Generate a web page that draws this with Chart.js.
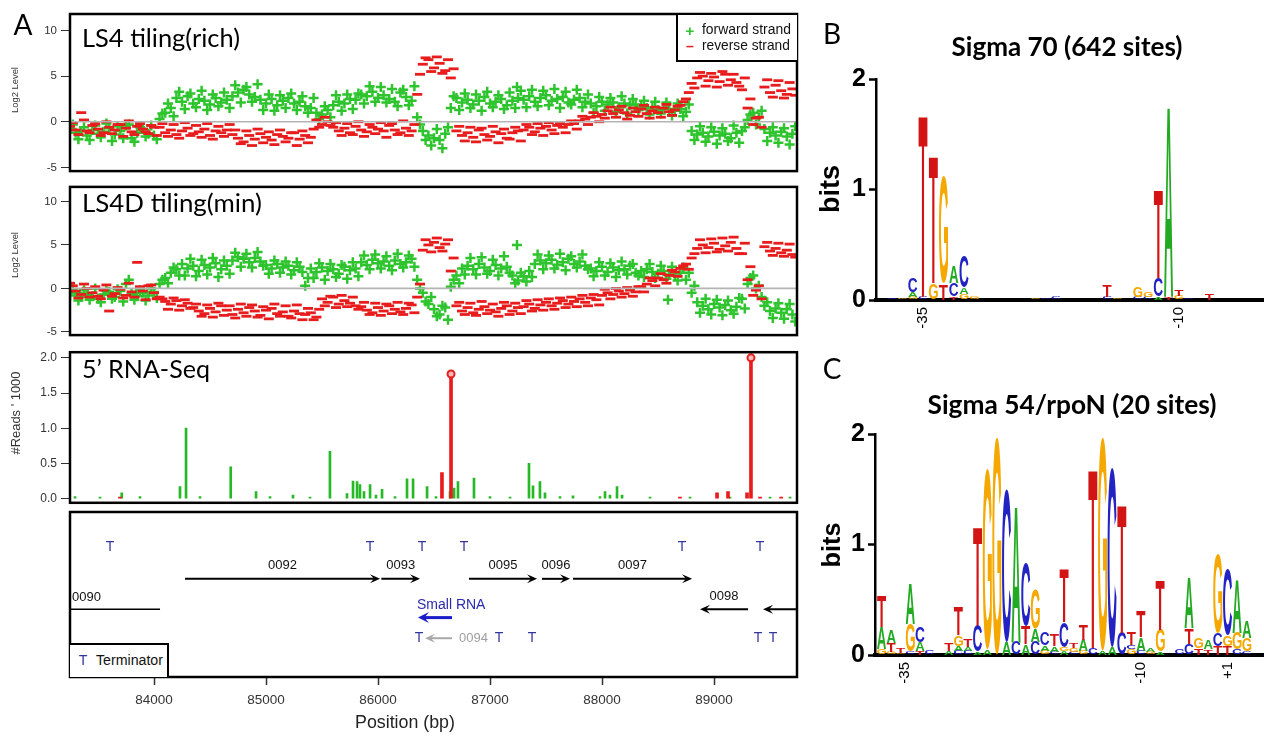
<!DOCTYPE html>
<html><head><meta charset="utf-8">
<script src="https://cdn.jsdelivr.net/npm/chart.js@4.4.1/dist/chart.umd.min.js"></script>
<style>
html,body{margin:0;padding:0;background:#fff;}
body{width:1264px;height:736px;position:relative;overflow:hidden;font-family:"Liberation Sans",Arial,sans-serif;}
canvas{position:absolute;}
.t{position:absolute;white-space:nowrap;line-height:1;}
.box{position:absolute;background:#fff;box-sizing:border-box;}
</style></head><body>
<canvas id="c1" width="810" height="182" style="left:0;top:0"></canvas>
<canvas id="c2" width="810" height="170" style="left:0;top:176px"></canvas>
<canvas id="c3" width="810" height="173" style="left:0;top:341px"></canvas>
<canvas id="c4" width="810" height="228" style="left:0;top:508px"></canvas>
<canvas id="cB" width="464" height="290" style="left:800px;top:56px"></canvas>
<canvas id="cC" width="464" height="290" style="left:800px;top:410px"></canvas>
<div class="box" style="left:676px;top:15px;width:121px;height:47px;border-left:2px solid #000;border-bottom:2px solid #000;"></div>
<div class="box" style="left:70px;top:643px;width:99px;height:34px;border-top:2px solid #000;border-right:2px solid #000;"></div>
<script>
// ---------------- DATA ----------------
const probeStart = 83250, probeStep = 50, probeOffset2 = 25;   // tiling probe grid (bp); second interleaved probe set
const richForward = [-0.8,-1.2,-1.0,-1.5,-0.9,-1.3,-1.1,-0.7,-1.4,-1.0,-0.4,-1.8,-1.2,-0.8,-1.3,-1.5,
 0.3,1.0,1.5,
 2.6,2.2,2.8,2.0,2.5,2.3,1.9,2.6,2.1,2.4,
 2.8,3.2,3.5,3.0,2.7,
 2.4,2.0,2.5,1.8,2.3,2.6,2.0,2.2,1.7,1.5,
 1.0,0.8,1.3,
 1.8,2.2,2.0,2.5,2.4,
 3.0,2.8,3.3,2.6,2.9,
 2.5,2.2,3.2,2.7,2.3,
 0.5,-1.0,
 -1.5,-1.8,-2.0,-1.3,
 1.5,
 2.6,2.1,2.4,1.9,2.3,2.7,2.0,2.2,2.5,1.8,2.3,2.6,
 2.4,2.8,2.2,2.6,2.9,2.3,2.5,2.7,2.1,2.4,2.6,2.2,
 2.0,1.7,2.2,1.9,2.1,1.6,2.0,1.8,1.9,
 1.7,1.5,1.6,1.3,1.5,1.4,1.2,1.4,1.1,
 -1.0,-1.4,-1.2,-1.6,-1.1,-1.5,-1.3,-1.8,-1.2,-1.0,
 0.2,1.0,0.5,
 -0.8,-1.2,-1.5,-1.1,-1.6,-1.3];
const richForward2 = [-0.3,-1.9,-0.6,-2.0,-0.4,-1.7,-0.2,-2.1,-0.5,-1.8,-0.3,-2.2,-0.6,-1.6,-0.4,-1.9,
 0.9,2.0,0.6,
 3.3,1.4,3.1,1.6,3.4,1.3,3.0,1.7,3.2,1.5,
 4.0,2.1,3.8,2.2,4.1,
 1.3,3.0,1.2,2.9,1.5,3.1,1.3,2.8,1.0,2.6,
 0.3,1.7,0.5,
 2.9,1.2,3.0,1.4,3.1,
 2.0,3.9,2.2,3.8,2.1,
 3.6,1.7,3.5,1.8,3.9,
 -0.3,-2.0,
 -2.6,-0.8,-2.9,-0.6,
 2.8,
 1.3,3.1,1.5,3.0,1.2,3.3,1.6,2.9,1.4,3.2,1.5,3.4,
 1.6,3.5,1.7,3.4,1.8,3.6,1.5,3.3,1.9,3.5,1.6,3.0,
 1.0,2.7,1.2,2.6,1.1,2.8,0.9,2.5,1.3,
 2.3,0.8,2.2,0.9,2.1,0.7,2.0,0.6,1.9,
 -2.0,-0.5,-2.2,-0.6,-2.4,-0.7,-2.1,-0.4,-2.3,-0.6,
 0.8,-0.3,1.2,
 -2.1,-0.6,-2.3,-0.7,-2.5,-0.5];
const richReverse = [-0.5,-0.9,1.0,-1.0,-0.4,-0.8,-1.2,-0.6,-0.9,-0.3,-0.7,-1.1,-0.5,-0.8,-1.3,-0.6,
 -0.6,-1.2,-0.9,-1.4,-1.0,-0.7,-1.3,-1.1,-0.8,-1.5,-1.0,-1.2,-0.9,
 -1.4,-1.8,-2.2,-1.5,-1.9,-1.3,-1.7,-2.0,-1.4,-1.6,-1.8,-1.2,-1.9,-1.5,-1.7,
 0.2,-0.3,0.0,
 -0.6,-1.0,-0.7,-1.2,-0.5,-0.9,-1.1,-0.6,-0.8,-1.0,-0.4,-0.9,-1.2,-0.7,-1.0,
 3.0,6.3,6.8,5.9,6.4,5.6,4.8,
 -1.0,-1.5,-1.2,-1.7,-0.9,-1.4,-1.6,-1.1,-1.3,-1.8,-1.2,-1.0,
 -0.9,-0.6,-1.1,-0.7,-0.5,-0.9,-0.4,-0.6,-0.3,
 -0.2,0.1,0.3,0.5,0.6,
 0.8,1.2,0.9,1.3,1.0,0.7,1.1,1.4,0.9,1.2,1.0,1.5,1.1,1.3,1.8,2.5,
 4.2,4.8,5.0,4.5,4.9,4.4,5.2,4.6,4.3,3.5,
 1.5,-0.3,0.5,
 3.8,3.2,4.0,3.4,3.0,3.6];
const richReverse2 = [-0.1,-1.4,0.2,-1.2,-0.2,-1.5,0.0,-1.3,-0.3,-1.6,0.1,-1.4,-0.2,-1.1,-0.4,-1.5,
 -0.2,-1.6,-0.3,-1.8,-0.1,-1.5,-0.4,-1.7,-0.2,-1.9,-0.5,-1.6,-0.3,
 -0.9,-2.4,-1.0,-2.6,-0.8,-2.3,-1.1,-2.5,-0.9,-2.2,-1.2,-2.6,-1.0,-2.3,-0.8,
 -0.6,0.5,-0.4,
 -0.1,-1.5,-0.2,-1.4,0.0,-1.6,-0.3,-1.3,-0.1,-1.7,-0.2,-1.4,0.1,-1.5,-0.3,
 5.2,7.0,5.5,7.1,5.3,6.8,5.8,
 -0.5,-2.1,-0.6,-2.2,-0.7,-2.0,-0.5,-2.3,-0.8,-1.9,-0.6,-2.1,
 -0.3,-1.4,-0.2,-1.5,-0.1,-1.3,-0.2,-1.2,0.1,
 -0.8,0.6,-0.3,1.0,0.0,
 0.4,1.6,0.5,1.7,0.3,1.5,0.6,1.8,0.4,1.6,0.5,1.9,0.7,1.7,2.2,3.2,
 3.7,5.4,3.9,5.3,3.8,5.5,4.0,5.2,3.9,4.8,
 2.5,0.4,-0.6,
 4.6,2.7,4.5,2.6,4.3,2.9];
const minForward = [-0.8,-0.5,-1.0,-0.6,-0.9,-1.2,-0.7,-0.4,-1.0,-0.3,0.5,-0.6,-0.9,-0.5,-0.8,-0.4,
 0.5,1.2,1.8,2.2,
 2.8,2.3,2.6,2.0,2.7,2.4,2.9,2.2,2.6,
 3.2,3.6,3.4,3.0,3.5,3.1,
 2.7,2.3,2.8,2.4,2.6,2.1,2.5,
 0.3,
 2.3,1.9,2.4,2.0,2.2,1.7,2.5,2.1,2.3,
 3.0,2.7,3.3,2.9,3.1,2.6,3.2,2.8,3.0,3.4,
 1.0,-0.5,-1.8,-2.4,-3.0,-2.2,
 0.2,1.5,2.3,
 2.6,2.2,2.8,2.4,2.0,2.7,2.3,2.5,
 1.5,0.9,1.4,2.0,
 2.8,3.2,2.9,3.3,2.7,3.0,3.4,2.8,3.1,2.6,
 2.3,2.0,2.5,1.9,2.4,2.1,2.2,2.6,1.8,
 2.0,2.2,1.9,1.7,2.0,1.6,1.5,1.8,
 1.0,-0.5,
 -1.6,-2.0,-2.4,-1.8,-2.2,-1.9,-2.5,-2.1,-1.2,
 0.5,1.5,0.3,
 -2.0,-2.6,-2.3,-2.8,-2.4,-3.0];
const minForward2 = [-0.1,-1.4,-0.2,-1.3,0.0,-1.6,-0.3,-1.2,-0.1,-1.5,1.0,-1.3,-0.2,-1.4,0.0,-1.1,
 1.0,0.6,2.4,1.5,
 1.5,3.4,1.4,3.3,1.6,3.5,1.3,3.2,1.7,
 4.1,2.5,4.0,2.4,4.2,2.6,
 1.7,3.2,1.8,3.1,1.6,3.0,1.9,
 1.2,
 1.2,2.9,1.0,2.8,1.3,2.7,1.1,3.0,1.4,
 3.8,2.2,3.9,2.3,3.7,2.1,4.0,2.4,3.8,2.5,
 0.0,-1.5,-1.0,-3.2,-2.0,-3.6,
 1.0,0.6,1.6,
 3.5,1.6,3.6,1.7,3.3,1.5,3.7,1.8,
 0.6,1.8,0.8,1.3,
 3.9,2.2,3.8,2.3,4.0,2.1,3.7,2.4,3.9,2.2,
 1.4,3.0,1.5,2.9,1.3,3.1,1.6,2.8,1.5,
 1.3,2.8,1.2,2.6,1.1,2.5,0.9,2.4,
 1.8,0.3,
 -2.8,-1.2,-3.0,-1.3,-3.1,-1.4,-2.9,-1.1,-2.3,
 1.2,0.0,-1.0,
 -1.6,-3.4,-1.7,-3.5,-1.8,-3.8];
const minReverse = [0.6,-0.3,-0.7,0.0,-0.5,-0.9,-0.2,-2.6,-0.6,-0.1,-0.8,-0.4,3.0,-0.3,0.3,-0.5,
 -1.0,-1.5,-1.8,-1.4,-2.0,-1.7,
 -2.2,-2.6,-2.9,-2.3,-2.7,-2.0,-2.5,-3.0,-2.4,-2.8,-2.2,-2.6,-3.1,-2.5,-2.3,-2.9,-2.7,-3.2,-2.6,-2.9,
 -3.0,-2.8,-3.3,
 -1.2,-1.6,-1.0,-1.8,-1.4,-1.7,-2.0,
 -2.1,-2.5,-2.8,-2.2,-2.6,-2.0,-2.4,-2.7,-2.3,-1.9,
 -1.0,4.4,5.0,5.3,4.7,5.1,
 2.0,
 -2.0,-2.6,-2.2,-2.8,-2.4,-2.1,-2.5,-2.7,-2.3,-2.0,-2.6,-2.2,
 -2.1,-1.8,-2.3,-1.9,-1.6,-2.0,-1.7,-1.4,-1.8,-1.5,-1.2,-1.6,-1.1,-1.3,
 -0.8,-0.5,-0.7,-0.3,-0.6,-0.2,-0.4,
 0.2,0.5,0.9,1.2,1.0,1.5,1.9,2.3,
 2.8,3.5,
 4.6,5.0,4.7,5.2,4.5,4.9,5.3,4.6,4.0,
 1.0,-0.8,0.3,
 4.8,4.3,4.6,4.1,4.4,3.9];
const minReverse2 = [0.3,-1.1,0.5,-1.0,0.2,-1.2,0.4,-0.9,0.1,-1.1,0.6,-1.0,0.2,-1.3,0.4,-1.2,
 -1.2,-2.4,-1.1,-2.5,-1.3,-2.3,
 -1.8,-3.2,-1.9,-3.3,-1.7,-3.1,-2.0,-3.4,-1.8,-3.2,-1.9,-3.3,-2.1,-3.5,-1.8,-3.2,-2.0,-3.4,-1.9,-3.6,
 -2.3,-3.6,-2.4,
 -2.0,-0.9,-2.2,-0.8,-2.1,-1.0,-2.4,
 -1.6,-3.0,-1.7,-3.1,-1.8,-2.9,-1.6,-3.0,-1.7,-2.8,
 0.5,5.6,4.2,5.8,4.3,5.6,
 3.5,
 -1.6,-3.0,-1.7,-3.1,-1.5,-2.9,-1.8,-3.2,-1.6,-3.0,-1.7,-2.9,
 -1.4,-2.6,-1.3,-2.5,-1.2,-2.4,-1.1,-2.2,-1.0,-2.1,-0.8,-2.0,-0.7,-1.9,
 -0.1,-1.2,0.0,-1.0,0.1,-0.9,0.2,
 -0.4,1.2,0.3,1.7,0.6,2.1,1.4,2.6,
 2.2,4.0,
 5.6,4.1,5.7,4.2,5.8,4.3,5.9,4.0,5.2,
 2.5,-0.2,-1.2,
 5.3,3.8,5.2,3.7,5.1,3.6];
const richForwardOutlierPos = [87241];
const richForwardOutlierVal = [3.8];
const minForwardOutlierPos = [87241, 88589];
const minForwardOutlierVal = [5.0, -1.3];

const rnaForwardPos = [83295,83518,83712,83875,84232,84286,84411,84685,84911,85036,85241,85393,85571,85723,85777,85813,85839,85875,85929,85982,86036,86152,86259,86313,86438,86518,86643,86679,86714,86857,87000,87179,87348,87384,87446,87491,87625,87741,87982,88027,88071,88134,88179,88429,88786,89143,89500,89679];
const rnaForwardReads = [0.03,0.02,0.08,0.03,0.17,1.0,0.03,0.45,0.1,0.03,0.05,0.02,0.67,0.07,0.25,0.24,0.2,0.1,0.2,0.05,0.13,0.03,0.28,0.28,0.17,0.03,0.1,0.15,0.24,0.29,0.03,0.02,0.5,0.18,0.24,0.08,0.03,0.04,0.03,0.1,0.05,0.17,0.05,0.02,0.02,0.02,0.02,0.02];
const rnaReversePos = [83696,86571,86652,88696,89027,89125,89295,89330,89411,89600];
const rnaReverseReads = [0.02,0.37,1.77,0.02,0.08,0.1,0.08,2.0,0.02,0.02];

const positionTicks = [84000,85000,86000,87000,88000,89000];
const log2Ticks = [-5,0,5,10];
const readTicks = [0,0.5,1,1.5,2];

const geneNames   = ['0090','0092','0093','0095','0096','0097','0098','','Small RNA','0094'];
const geneStarts  = [83000,84277,86030,86812,87464,87741,88875,89438,86357,86420];
const geneEnds    = [84054,86018,86375,87420,87714,88804,89304,90000,86661,86661];
const geneStrands = [0,1,1,1,1,1,-1,-1,-1,-1];
const geneTracks  = ['rev','fwd','fwd','fwd','fwd','fwd','rev','rev','srna','low'];
const geneKinds   = ['gene','gene','gene','gene','gene','gene','gene','gene','sRNA','pseudo'];
const termPos     = [83607,85929,86393,86768,88714,89411,86366,87080,87375,89393,89527];
const termTracks  = ['top','top','top','top','top','top','low','low','low','low','low'];

const sigma70Pos = [-38,-37,-36,-35,-34,-33,-32,-31,-30,-24,-23,-22,-17,-16,-14,-13,-12,-11,-10,-9,-7];
const sigma70Letters = ['C','G','GAC','CT','GT','TG','TCA','GAC','G','G','C','C','CT','G','CG','CG','ACT','TA','GT','C','T'];
const sigma70Bits = [[0.02],[0.02],[0.03,0.04,0.13],[0.03,1.65],[0.15,1.15],[0.15,0.97],[0.03,0.12,0.15],[0.05,0.06,0.28],[0.03],[0.02],[0.02],[0.03],[0.03,0.10],[0.01],[0.03,0.10],[0.03,0.05],[0.03,0.17,0.80],[0.03,1.73],[0.04,0.06],[0.02],[0.06]];
const sigma70TickPos = [-35,-10];
const sigma70TickLabels = ['-35','-10'];

const sigma54Pos = [0,1,2,3,4,5,6,7,8,9,10,11,12,13,14,15,16,17,18,19,20,21,22,23,24,25,26,27,28,29,30,31,32,33,34,35,36,37,38];
const sigma54Letters = ['GAT','GTA','GT','CGA','TAC','C','','AT','CAGT','CAT','ACT','AG','G','AC','CA','ATC','CAG','GAC','CAT','AGCT','CGT','GAT','CT','AG','AC','CT','GCT','CAT','GA','AGT','','C','CTA','TG','TA','TCG','TGC','CGA','CGA'];
const sigma54Bits = [[0.05,0.2,0.28],[0.03,0.08,0.12],[0.02,0.05],[0.03,0.25,0.36],[0.04,0.08,0.14],[0.04],[],[0.04,0.07],[0.04,0.04,0.10,0.26],[0.04,0.03,0.07],[0.03,0.24,0.89],[0.05,1.63],[1.97],[0.12,1.38],[0.12,1.24],[0.10,0.16,0.57],[0.12,0.12,0.36],[0.04,0.05,0.12],[0.03,0.05,0.10],[0.04,0.03,0.23,0.48],[0.03,0.03,0.04],[0.04,0.10,0.14],[0.06,1.62],[0.04,1.93],[0.07,1.62],[0.20,1.17],[0.05,0.04,0.12],[0.04,0.12,0.23],[0.03,0.03],[0.03,0.20,0.45],[],[0.05],[0.10,0.14,0.46],[0.06,0.10],[0.05,0.08],[0.08,0.12,0.71],[0.08,0.10,0.60],[0.05,0.15,0.48],[0.03,0.12,0.15]];
const sigma54TickPos = [2.4,27,36];
const sigma54TickLabels = ['-35','-10','+1'];

// ---------------- STYLE ----------------
const FONT = '"Liberation Sans", Arial, sans-serif';
const GREEN = '#2ec42e', RED = '#e81c1c';
const letterColors = {A:'#22aa22', C:'#2323c4', G:'#f5a800', T:'#d21414'};
const trackLevel = {top:7.9, fwd:5.95, rev:4.1, srna:3.6, low:2.35};
const geneStyle = {gene:{color:'#000', width:2, font:13, textColor:'#111'}, sRNA:{color:'#1c1cc8', width:3, font:14, textColor:'#2a2ab0'}, pseudo:{color:'#a8a8a8', width:2, font:13, textColor:'#a0a0a0'}};
const XMIN = 83250, XMAX = 89741;

const framePlugin = {id:'frame', afterDraw(chart){
  const a = chart.chartArea, c = chart.ctx;
  c.save(); c.strokeStyle = '#000'; c.lineWidth = 2.5;
  c.strokeRect(a.left, a.top, a.right - a.left, a.bottom - a.top); c.restore();
}};
const zeroPlugin = {id:'zero', afterDatasetsDraw(chart){
  const a = chart.chartArea, c = chart.ctx, y = chart.scales.y.getPixelForValue(0);
  c.save(); c.strokeStyle = '#b4b4b4'; c.lineWidth = 1.6;
  c.beginPath(); c.moveTo(a.left, y); c.lineTo(a.right, y); c.stroke(); c.restore();
}};

function yAxis(min, max, ticks, size, fmt){
  return {type:'linear', min, max,
    afterBuildTicks: s => { s.ticks = ticks.map(v => ({value:v})); },
    afterFit: s => { s.width = 70; },
    grid:{drawOnChartArea:false, drawTicks:true, tickLength:9, tickColor:'#333', tickWidth:1},
    border:{display:false},
    ticks:{color:'#333', font:{size, family:FONT}, padding:4, callback: fmt}};
}
const xHidden = {type:'linear', min:XMIN, max:XMAX, display:false};
const baseOpts = {responsive:false, animation:false, devicePixelRatio:1,
  plugins:{legend:{display:false}, tooltip:{enabled:false}}};

function toXY(pos, vals){ return vals.map((v,i) => ({x:pos[i], y:v})); }
function probeXY(vals, off){ return vals.map((v,i) => ({x:probeStart + off + i*probeStep, y:v})); }

function tilingChart(id, fwd, fwd2, rev, rev2, outPos, outVal, ymin, ymax){
  const revStyle = {pointStyle:'line', pointRadius:5, borderColor:RED, borderWidth:2.8, backgroundColor:RED};
  const fwdStyle = {pointStyle:'cross', pointRadius:5, borderColor:GREEN, borderWidth:2.5};
  new Chart(document.getElementById(id), {type:'scatter',
    data:{datasets:[
      Object.assign({data:probeXY(rev, 0)}, revStyle),
      Object.assign({data:probeXY(rev2, probeOffset2)}, revStyle),
      Object.assign({data:toXY(outPos, outVal)}, fwdStyle),
      Object.assign({data:probeXY(fwd, 0)}, fwdStyle),
      Object.assign({data:probeXY(fwd2, probeOffset2)}, fwdStyle)
    ]},
    options:Object.assign({}, baseOpts, {
      layout:{padding:{top:id==='c1'?14:4, bottom:4, right:13, left:0}},
      scales:{x:xHidden, y:yAxis(ymin, ymax, log2Ticks, 11.5, v => String(v))}
    }),
    plugins:[zeroPlugin, framePlugin]});
}
tilingChart('c1', richForward, richForward2, richReverse, richReverse2, richForwardOutlierPos, richForwardOutlierVal, -5.4, 11.8);
tilingChart('c2', minForward, minForward2, minReverse, minReverse2, minForwardOutlierPos, minForwardOutlierVal, -5.37, 11.68);

// RNA-seq
const peaks = rnaReversePos.map((p,i) => ({x:p, y:rnaReverseReads[i]})).filter(d => d.y > 1);
new Chart(document.getElementById('c3'), {type:'bar',
  data:{datasets:[
    {type:'scatter', data:peaks, pointStyle:'circle', pointRadius:3.5, borderColor:RED, borderWidth:2, backgroundColor:'#f7b8b8'},
    {data:toXY(rnaReversePos, rnaReverseReads), backgroundColor:RED, barThickness:3, grouped:false},
    {data:toXY(rnaForwardPos, rnaForwardReads), backgroundColor:'#27b827', barThickness:2, grouped:false}
  ]},
  options:Object.assign({}, baseOpts, {
    layout:{padding:{top:4, bottom:4, right:13, left:0}},
    scales:{x:{type:'linear', min:XMIN, max:XMAX, display:false, offset:false, grid:{offset:false}},
            y:yAxis(-0.06, 2.08, readTicks, 12, v => v.toFixed(1))}
  }),
  plugins:[framePlugin]});

// gene track
const genePlugin = {id:'genes', afterDatasetsDraw(chart){
  const {ctx, chartArea:a} = chart, x = chart.scales.x, y = chart.scales.y;
  ctx.save();
  ctx.beginPath(); ctx.rect(a.left, a.top, a.right - a.left, a.bottom - a.top); ctx.clip();
  geneNames.forEach((name, i) => {
    const st = geneStyle[geneKinds[i]];
    const x1 = x.getPixelForValue(geneStarts[i]), x2 = x.getPixelForValue(geneEnds[i]);
    const yy = y.getPixelForValue(trackLevel[geneTracks[i]]);
    const dir = geneStrands[i];
    ctx.strokeStyle = st.color; ctx.fillStyle = st.color; ctx.lineWidth = dir === 0 ? 1.5 : st.width;
    const tip = dir < 0 ? x1 : x2, tail = dir < 0 ? x2 : x1;
    ctx.beginPath(); ctx.moveTo(tail, yy); ctx.lineTo(dir === 0 ? tip : tip - dir*5, yy); ctx.stroke();
    if (dir !== 0){
      const hl = geneKinds[i] === 'sRNA' ? 11 : 10, hw = geneKinds[i] === 'sRNA' ? 5.5 : 4.5;
      ctx.beginPath(); ctx.moveTo(tip, yy); ctx.lineTo(tip - dir*hl, yy - hw); ctx.lineTo(tip - dir*hl*0.6, yy); ctx.lineTo(tip - dir*hl, yy + hw); ctx.closePath(); ctx.fill();
    }
    if (!name) return;
    ctx.fillStyle = st.textColor; ctx.font = st.font + 'px ' + FONT; ctx.textBaseline = 'middle';
    if (geneKinds[i] === 'pseudo'){ ctx.textAlign = 'left'; ctx.fillText(name, x2 + 7, yy); }
    else if (geneKinds[i] === 'sRNA'){ ctx.textAlign = 'left'; ctx.fillText(name, x1 - 1, yy - 12); }
    else if (x1 < a.left){ ctx.textAlign = 'left'; ctx.fillText(name, a.left + 2, yy - 12); }
    else { ctx.textAlign = 'center'; ctx.fillText(name, (x1 + x2)/2, yy - 13); }
  });
  const meta = chart.getDatasetMeta(0);
  ctx.fillStyle = '#35359e'; ctx.font = '14px ' + FONT; ctx.textAlign = 'center'; ctx.textBaseline = 'middle';
  meta.data.forEach(el => { ctx.fillText('T', el.x, el.y); });
  ctx.restore();
}};
new Chart(document.getElementById('c4'), {type:'scatter',
  data:{datasets:[{data:termPos.map((p,i) => ({x:p, y:trackLevel[termTracks[i]]})), pointRadius:0}]},
  options:Object.assign({}, baseOpts, {
    layout:{padding:{top:4, bottom:0, right:13, left:70}},
    scales:{
      x:{type:'linear', min:XMIN, max:XMAX,
         afterBuildTicks: s => { s.ticks = positionTicks.map(v => ({value:v})); },
         afterFit: s => { s.height = 59; },
         grid:{drawOnChartArea:false, tickLength:8, tickColor:'#333', tickWidth:1.5}, border:{display:false},
         ticks:{color:'#333', font:{size:13.5, family:FONT}, padding:7, maxRotation:0, autoSkip:false, callback: v => String(v)}},
      y:{type:'linear', min:0, max:10, display:false}
    }
  }),
  plugins:[genePlugin, framePlugin]});

// sequence logos
function drawLetter(ctx, ch, left, top, w, h, color){
  if (h < 0.6 || w <= 0) return;
  ctx.save();
  ctx.font = 'bold 100px ' + FONT;
  const m = ctx.measureText(ch);
  const gl = m.actualBoundingBoxLeft, ga = m.actualBoundingBoxAscent;
  const gw = m.actualBoundingBoxLeft + m.actualBoundingBoxRight, gh = m.actualBoundingBoxAscent + m.actualBoundingBoxDescent;
  ctx.translate(left, top); ctx.scale(w/gw, h/gh);
  ctx.fillStyle = color; ctx.textAlign = 'left'; ctx.textBaseline = 'alphabetic';
  ctx.fillText(ch, gl, ga);
  ctx.restore();
}
function makeLetterPlugin(letters){
  return {id:'letters', afterDatasetsDraw(chart){
    chart.data.datasets.forEach((ds, k) => {
      chart.getDatasetMeta(k).data.forEach((el, i) => {
        const ch = letters[i][k]; if (!ch) return;
        const p = el.getProps(['x','y','base','width'], true);
        drawLetter(chart.ctx, ch, p.x - p.width/2, Math.min(p.y, p.base), p.width, Math.abs(p.base - p.y), letterColors[ch]);
      });
    });
  }};
}
function logoChart(id, pos, bits, letters, tickPos, tickLabels, xmin, xmax, padTop, yW, xH){
  const depth = Math.max(...bits.map(b => b.length));
  const ds = [];
  for (let k = 0; k < depth; k++) ds.push({data:pos.map((p,i) => ({x:p, y:bits[i][k] || 0})), backgroundColor:'rgba(0,0,0,0)', borderWidth:0, barThickness:9, grouped:false});
  new Chart(document.getElementById(id), {type:'bar', data:{datasets:ds},
    options:Object.assign({}, baseOpts, {
      layout:{padding:{top:padTop, left:0, right:0, bottom:0}},
      scales:{
        x:{type:'linear', stacked:true, offset:false, min:xmin, max:xmax,
           afterBuildTicks: s => { s.ticks = tickPos.map(v => ({value:v})); },
           afterFit: s => { s.height = xH; },
           grid:{display:false, drawTicks:false, offset:false}, border:{display:true, color:'#000', width:4},
           ticks:{autoSkip:false, minRotation:90, maxRotation:90, color:'#000', font:{size:15, family:FONT}, padding:7, callback:(v, i) => tickLabels[i]}},
        y:{type:'linear', stacked:true, min:0, max:2,
           afterBuildTicks: s => { s.ticks = [0,1,2].map(v => ({value:v})); },
           afterFit: s => { s.width = yW; },
           grid:{drawOnChartArea:false, tickLength:7, tickColor:'#000', tickWidth:2.5}, border:{display:true, color:'#000', width:2.5},
           ticks:{color:'#000', font:{size:25, weight:'bold', family:FONT}, padding:3}}
      }
    }),
    plugins:[makeLetterPlugin(letters)]});
}
logoChart('cB', sigma70Pos, sigma70Bits, sigma70Letters, sigma70TickPos, sigma70TickLabels, -39.6, -1.67, 23, 76, 46);
logoChart('cC', sigma54Pos, sigma54Bits, sigma54Letters, sigma54TickPos, sigma54TickLabels, -0.68, 39.8, 24, 75, 45);

// ---------------- TEXT ----------------
function addText(txt, x, y, o){
  o = o || {};
  const s = document.createElement('span'); s.className = 't'; s.textContent = txt;
  s.style.fontFamily = o.family || FONT; s.style.fontSize = (o.size || 12) + 'px';
  s.style.fontWeight = o.weight || 'normal'; s.style.color = o.color || '#000';
  document.body.appendChild(s);
  if (o.fitW){ const w = s.getBoundingClientRect().width; s.style.fontSize = ((o.size || 12) * o.fitW / w) + 'px'; }
  s.style.left = x + 'px'; s.style.top = y + 'px';
  if (o.rotate) s.style.transform = 'translate(-50%,-50%) rotate(-90deg)';
  else if (o.align === 'l') s.style.transform = 'translateY(-50%)';
  else s.style.transform = 'translate(-50%,-50%)';
}
addText('A', 23, 24, {size:28, family:'Lato'});
addText('B', 832, 33, {size:28, family:'Lato'});
addText('C', 832, 368, {size:28, family:'Lato'});
addText('LS4 tiling(rich)', 82, 38, {size:22, family:'Lato', align:'l', fitW:158});
addText('LS4D tiling(min)', 82, 203, {size:22, family:'Lato', align:'l', fitW:180});
addText('5\u2019 RNA-Seq', 82, 369, {size:22, family:'Lato', align:'l', fitW:128});
addText('Sigma 70 (642 sites)', 1067, 46, {size:22, family:'Lato', weight:'bold', fitW:231});
addText('Sigma 54/rpoN (20 sites)', 1072, 404, {size:22, family:'Lato', weight:'bold', fitW:289});
addText('bits', 830, 189, {size:27, weight:'bold', rotate:true, fitW:48});
addText('bits', 832, 545, {size:27, weight:'bold', rotate:true, fitW:45});
addText('Log2 Level', 15, 90, {size:10, rotate:true, color:'#333', fitW:46});
addText('Log2 Level', 15, 255, {size:10, rotate:true, color:'#333', fitW:46});
addText("#Reads ' 1000", 16, 413, {size:12, rotate:true, color:'#333', fitW:83});
addText('Position (bp)', 405, 723, {size:17, color:'#222', fitW:100});
addText('+', 690, 30, {size:15, color:GREEN, weight:'bold'});
addText('forward strand', 702, 30, {size:11.5, align:'l', color:'#111', fitW:89});
addText('\u2013', 690, 46, {size:14, color:RED, weight:'bold'});
addText('reverse strand', 702, 46, {size:11.5, align:'l', color:'#111', fitW:88});
addText('T', 83, 660, {size:14, color:'#35359e'});
addText('Terminator', 96, 660, {size:14, align:'l', color:'#111', fitW:67});
</script>
</body></html>
